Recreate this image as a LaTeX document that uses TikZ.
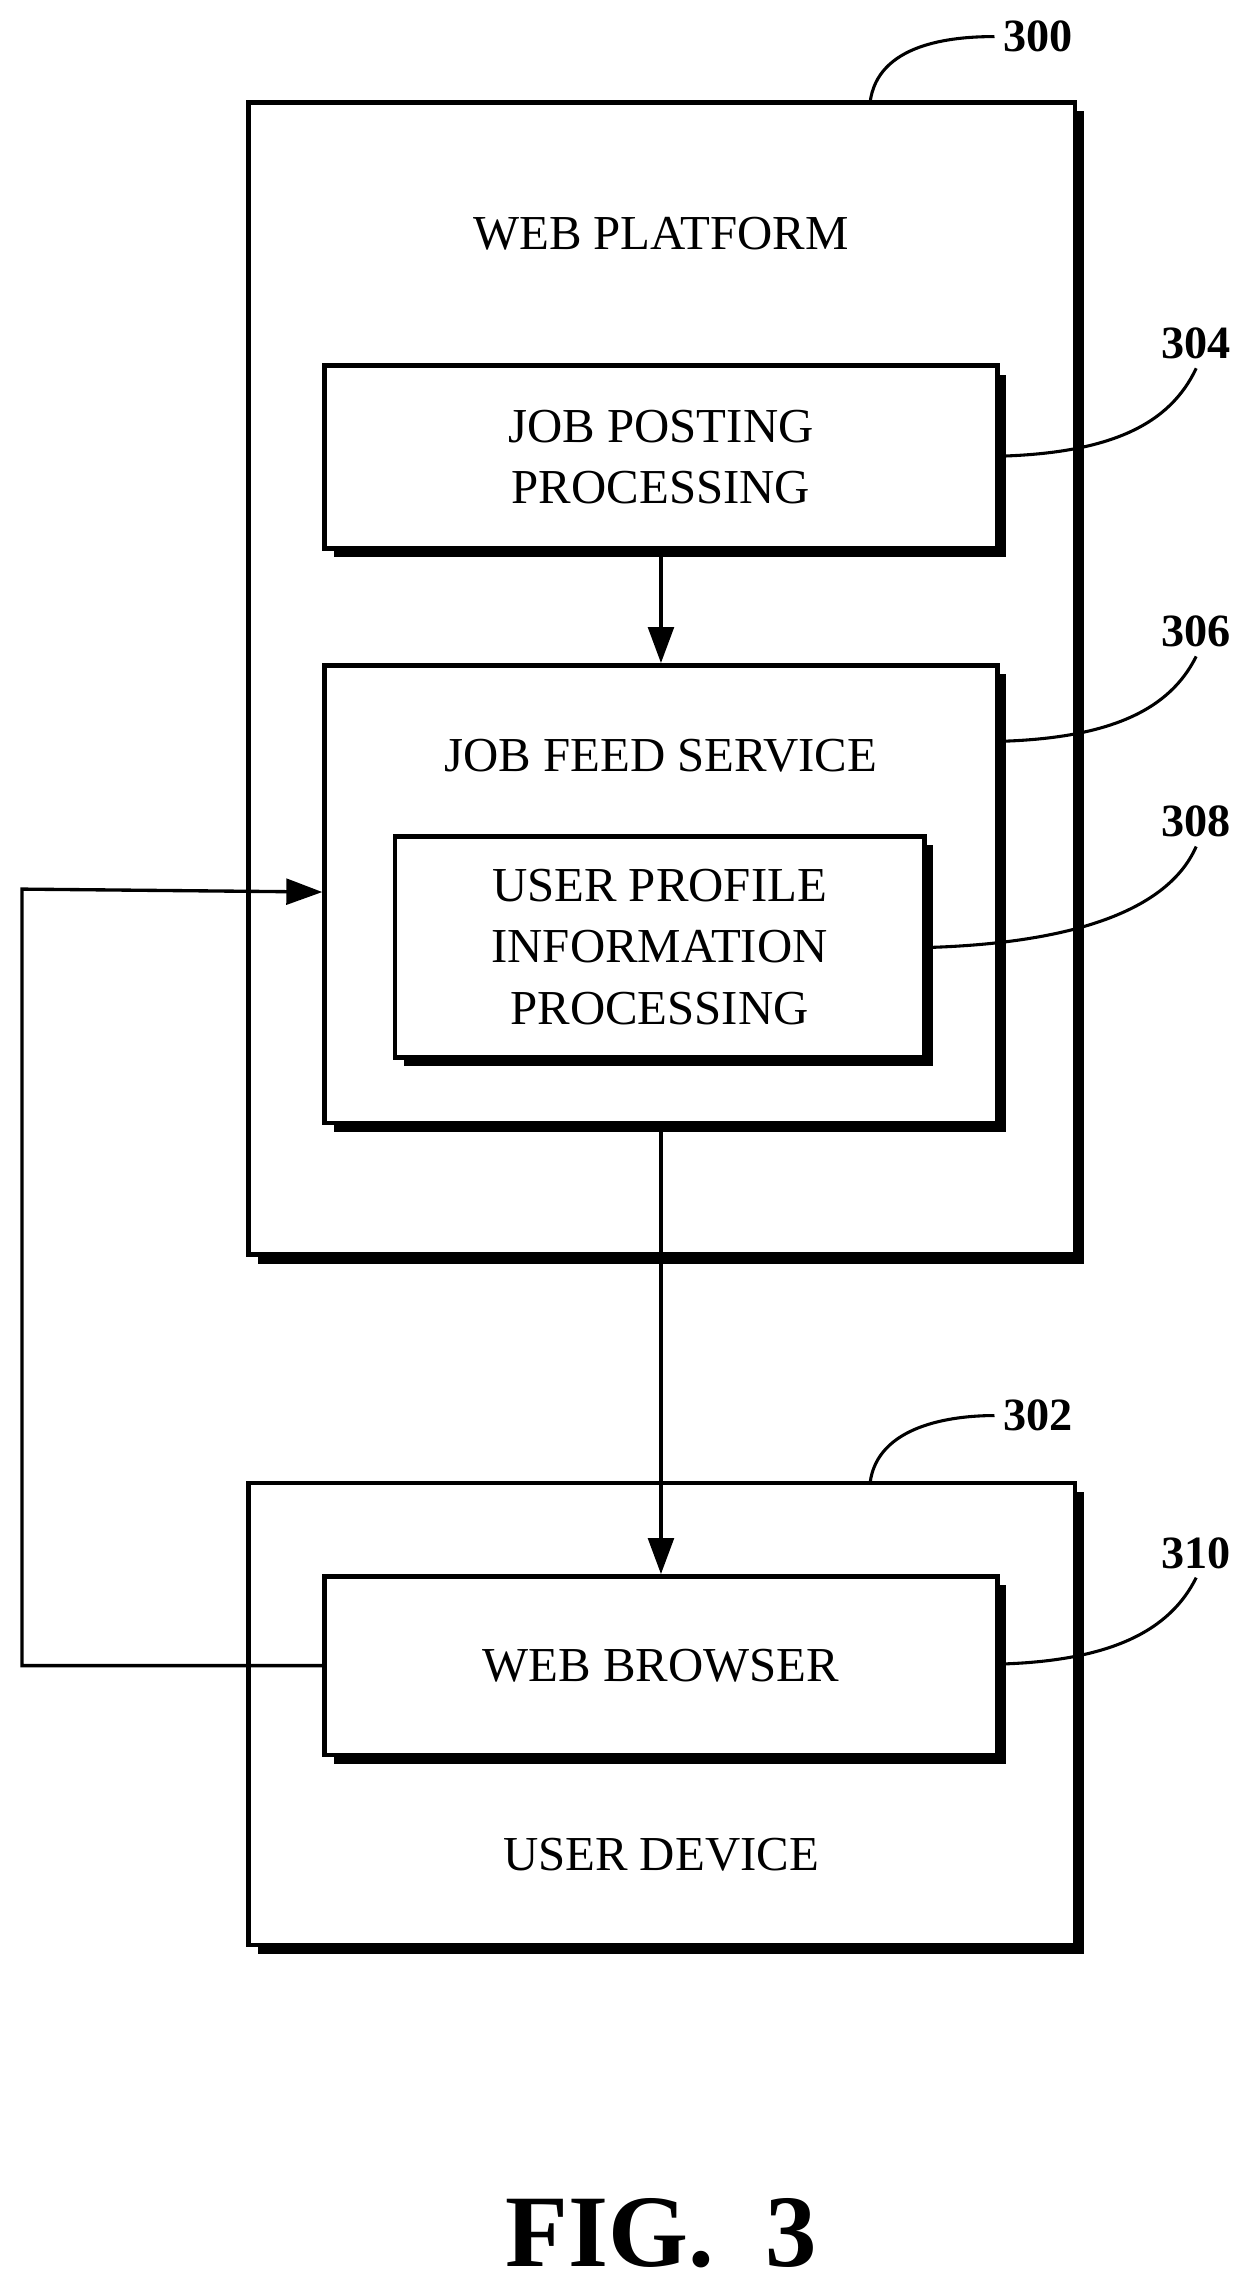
\documentclass[tikz,border=0pt]{standalone}
\usepackage{fontspec}
\setmainfont{Liberation Serif}
\usetikzlibrary{shadows,arrows.meta}

\tikzset{
	blk/.style={draw, line width=1.8pt, fill=white, align=center,
		drop shadow={shadow xshift=3.5pt, shadow yshift=-3.5pt, fill=black, opacity=1}},
	lbl/.style={font=\bfseries\fontsize{18}{20}\selectfont},
	lead/.style={line width=1.2pt},
	flow/.style={line width=1.3pt, -{Triangle[length=14pt, width=10pt]}}
}

\begin{document}
\begin{tikzpicture}[x=0.02cm, y=-0.02cm, font=\fontsize{19}{24}\selectfont]
	\useasboundingbox (0,0) rectangle (857,1566);

	% web platform
	\node [blk, minimum width=565*0.02cm, minimum height=788*0.02cm] (web) at (452.5,464) {};
	\node at (452,160) (webt) {WEB PLATFORM};
	\node [blk, minimum width=460*0.02cm, minimum height=125*0.02cm] (post) at (452,312.5)
		{JOB POSTING\\PROCESSING};
	\node [blk, minimum width=460*0.02cm, minimum height=313*0.02cm] (feed) at (452,611.5) {};
	\node at (452,517) (feedt) {JOB FEED SERVICE};
	\node [blk, minimum width=362*0.02cm, minimum height=151*0.02cm] (prof) at (451,647.5)
		{USER PROFILE\\INFORMATION\\PROCESSING};

	% user device
	\node [blk, minimum width=565*0.02cm, minimum height=316*0.02cm] (dev) at (452.5,1172) {};
	\node [blk, minimum width=460*0.02cm, minimum height=122*0.02cm] (brow) at (452,1139)
		{WEB BROWSER};
	\node at (452,1268) (devt) {USER DEVICE};

	% connectors
	\draw [flow] (post.south) -- (feed.north);
	\draw [flow] (feed.south) -- (brow.north);
	\coordinate (c1) at (15,1139);
	\coordinate (c2) at (15,608);
	\draw [flow] (brow.west) -- (c1) -- (c2) -- (feed.west |- 0,610);

	% reference numbers
	\node [lbl] (n300) at (710,25) {300};
	\node [lbl] (n304) at (818,235) {304};
	\node [lbl] (n306) at (818,432) {306};
	\node [lbl] (n308) at (818,562) {308};
	\node [lbl] (n302) at (710,968) {302};
	\node [lbl] (n310) at (818,1062) {310};
	\draw [lead] (595,70) .. controls (600,30) and (650,25) .. (n300.west);
	\draw [lead] (682,312) .. controls (760,310) and (800,290) .. (n304.south);
	\draw [lead] (682,507) .. controls (760,505) and (800,485) .. (n306.south);
	\draw [lead] (632,648) .. controls (740,645) and (800,620) .. (n308.south);
	\draw [lead] (595,1014) .. controls (600,975) and (650,968) .. (n302.west);
	\draw [lead] (682,1138) .. controls (760,1136) and (800,1115) .. (n310.south);

	\node [font=\bfseries\fontsize{40}{44}\selectfont] (fig) at (452,1527) {FIG.~~3};
\end{tikzpicture}
\end{document}
